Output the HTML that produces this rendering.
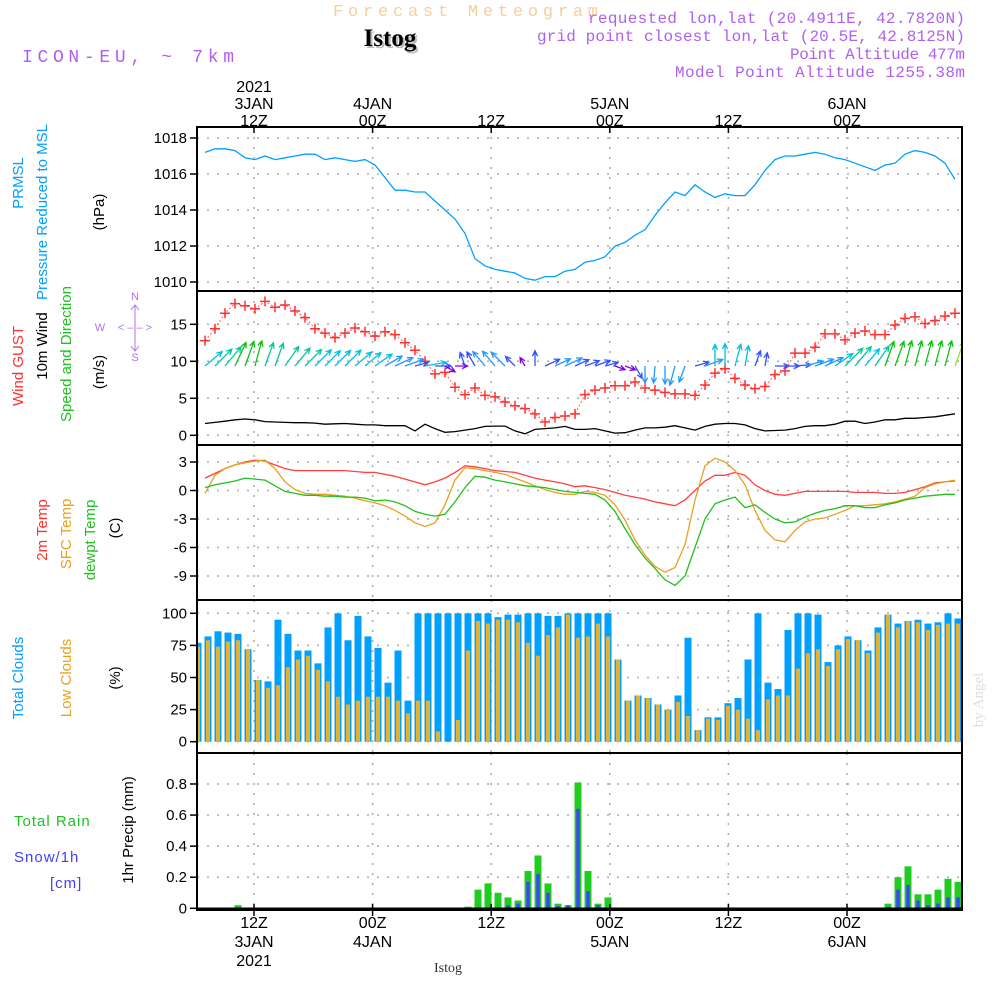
<!DOCTYPE html>
<html><head><meta charset="utf-8"><style>
html,body{margin:0;padding:0;background:#fff;}
svg{display:block;}
text{font-family:"Liberation Sans",sans-serif;}
.mono{font-family:"Liberation Mono",monospace;}
</style></head><body>
<svg id="chart" width="1000" height="1000" viewBox="0 0 1000 1000" xmlns="http://www.w3.org/2000/svg">
<rect width="1000" height="1000" fill="#fff"/>
<text class="mono" x="333" y="16" textLength="265" lengthAdjust="spacing" font-size="17" fill="#f5cf9a">Forecast Meteogram</text>
<text x="392" y="48" text-anchor="middle" font-size="25" font-weight="bold" fill="#bbb" style="font-family:'Liberation Serif',serif">Istog</text>
<text x="390" y="46" text-anchor="middle" font-size="25" font-weight="bold" fill="#000" style="font-family:'Liberation Serif',serif">Istog</text>
<text class="mono" x="22" y="62" textLength="212" lengthAdjust="spacing" font-size="18" fill="#b060f0">ICON-EU, ~ 7km</text>
<g class="mono" fill="#b060f0" font-size="16">
<text class="mono" x="588" y="23" textLength="377" lengthAdjust="spacing">requested lon,lat (20.4911E, 42.7820N)</text>
<text class="mono" x="537" y="41" textLength="428" lengthAdjust="spacing">grid point closest lon,lat (20.5E, 42.8125N)</text>
<text class="mono" x="790" y="59" textLength="175" lengthAdjust="spacing">Point Altitude 477m</text>
<text class="mono" x="675" y="77" textLength="290" lengthAdjust="spacing">Model Point Altitude 1255.38m</text>
</g>
<g id="timelabels" font-size="16" text-anchor="middle" fill="#000"></g>
<g id="grid"></g>
<g id="marks"></g>
<g id="frames"></g>
<g id="yticks" font-size="15" text-anchor="end"></g>
<g font-size="15">
<text transform="translate(23,183) rotate(-90)" text-anchor="middle" fill="#00a0ff">PRMSL</text>
<text transform="translate(47,212) rotate(-90)" text-anchor="middle" fill="#00a0ff">Pressure Reduced to MSL</text>
<text transform="translate(104,212) rotate(-90)" text-anchor="middle" fill="#000">(hPa)</text>
<text transform="translate(23,366) rotate(-90)" text-anchor="middle" fill="#ff3030">Wind GUST</text>
<text transform="translate(47,346) rotate(-90)" text-anchor="middle" fill="#000">10m Wind</text>
<text transform="translate(71,354) rotate(-90)" text-anchor="middle" fill="#20c020">Speed and Direction</text>
<text transform="translate(104,372) rotate(-90)" text-anchor="middle" fill="#000">(m/s)</text>
<g fill="#b070f0" stroke="none" font-size="11" text-anchor="middle">
<text x="135" y="300">N</text>
<text x="135" y="361">S</text>
<text x="100" y="331">W</text>
<text x="135" y="331">&lt; – – &gt;</text>
<path d="M135,306V351M131,310L135,305L139,310M131,346L135,351L139,346" stroke="#b070f0" stroke-width="1" fill="none"/>
</g>
<text transform="translate(47,530) rotate(-90)" text-anchor="middle" fill="#ff3030">2m Temp</text>
<text transform="translate(71,534) rotate(-90)" text-anchor="middle" fill="#e8a020">SFC Temp</text>
<text transform="translate(95,540) rotate(-90)" text-anchor="middle" fill="#20c020">dewpt Temp</text>
<text transform="translate(120,528) rotate(-90)" text-anchor="middle" fill="#000">(C)</text>
<text transform="translate(23,678) rotate(-90)" text-anchor="middle" fill="#00a0ff">Total Clouds</text>
<text transform="translate(71,678) rotate(-90)" text-anchor="middle" fill="#e8a020">Low Clouds</text>
<text transform="translate(120,678) rotate(-90)" text-anchor="middle" fill="#000">(%)</text>
<text transform="translate(133,830) rotate(-90)" text-anchor="middle" fill="#000">1hr Precip (mm)</text>
<text x="14" y="826" fill="#20c020" letter-spacing="1">Total  Rain</text>
<text x="14" y="862" fill="#4040ff" letter-spacing="1">Snow/1h</text>
<text x="50" y="888" fill="#4040ff" letter-spacing="1">[cm]</text>
<text transform="translate(983,700) rotate(-90)" text-anchor="middle" font-size="15" fill="#ddd" style="font-family:'Liberation Serif',serif">by Angel</text>
<text x="448" y="972" text-anchor="middle" font-size="14" fill="#333" style="font-family:'Liberation Serif',serif">Istog</text>
</g>
</svg>
<script>
const pressure=[1017.2,1017.4,1017.4,1017.3,1016.9,1016.8,1017.0,1016.8,1016.9,1017.0,1017.1,1017.1,1016.8,1016.9,1016.8,1016.7,1016.8,1016.5,1015.8,1015.1,1015.1,1015.0,1015.0,1014.5,1014.0,1013.5,1012.7,1011.3,1010.9,1010.7,1010.6,1010.5,1010.2,1010.1,1010.3,1010.3,1010.6,1010.7,1011.1,1011.2,1011.4,1012.0,1012.2,1012.6,1012.9,1013.7,1014.4,1015.0,1014.8,1015.4,1015.0,1014.7,1014.9,1014.8,1014.8,1015.4,1016.2,1016.8,1017.0,1017.0,1017.1,1017.2,1017.1,1016.9,1016.8,1016.6,1016.4,1016.2,1016.5,1016.6,1017.1,1017.3,1017.2,1017.0,1016.6,1015.7];
const gust=[12.8,14.4,16.5,17.8,17.5,17.1,18.1,17.3,17.6,16.8,15.9,14.4,13.8,13.2,13.8,14.5,14.0,13.4,14.0,13.6,12.5,11.5,10.0,8.3,8.5,6.5,5.5,6.4,5.4,5.2,4.5,4.0,3.6,2.9,1.8,2.4,2.6,2.9,5.5,6.1,6.4,6.7,6.7,7.2,6.4,6.1,5.8,5.6,5.6,5.4,6.8,8.4,9.0,7.7,6.8,6.3,6.6,8.2,8.7,11.1,11.1,11.9,13.7,13.7,12.9,13.8,14.1,13.6,13.6,14.9,15.8,16.0,15.1,15.5,16.1,16.5];
const wind10=[1.6,1.75,1.9,2.1,2.2,2.1,1.85,1.8,1.75,1.7,1.7,1.65,1.5,1.55,1.6,1.5,1.4,1.4,1.3,1.3,1.3,0.6,1.5,0.9,0.4,0.5,0.7,0.9,1.2,1.25,1.25,0.6,0.2,0.8,0.9,1.0,1.2,0.8,0.8,0.9,0.6,0.3,0.35,0.7,1.0,1.0,1.1,1.3,1.0,0.7,1.2,1.5,1.6,1.6,1.4,0.9,0.6,0.65,0.7,0.9,1.2,1.3,1.3,1.5,1.9,1.9,1.6,1.8,2.1,2.1,2.3,2.3,2.4,2.5,2.7,2.9];
const windDir=[50,45,40,25,20,15,20,20,35,40,45,45,45,45,45,50,50,55,60,65,70,75,80,90,120,90,340,330,320,320,315,315,330,0,65,65,65,65,70,70,75,110,110,150,180,185,180,195,200,75,70,0,0,15,10,20,10,90,90,85,75,70,65,55,45,40,40,35,20,20,15,15,15,15,15,20];
const temp2m=[1.3,1.8,2.3,2.7,3.0,3.2,3.1,2.7,2.3,2.1,2.1,2.1,2.1,2.1,2.1,2.0,1.9,1.9,1.7,1.5,1.2,0.9,0.6,0.9,1.3,1.9,2.6,2.5,2.3,2.1,2.0,1.9,1.6,1.3,1.1,0.9,0.7,0.4,0.5,0.3,0.1,-0.2,-0.5,-0.7,-0.9,-1.2,-1.4,-1.6,-1.0,0.0,1.0,1.6,1.6,1.9,1.6,0.6,0.0,-0.4,-0.5,-0.3,-0.1,-0.1,-0.1,-0.1,-0.1,-0.2,-0.2,-0.2,-0.3,-0.3,-0.2,0.1,0.4,0.8,0.9,1.0];
const tempSfc=[-0.3,1.6,2.3,2.7,2.9,3.1,3.2,2.3,0.9,0.1,-0.3,-0.4,-0.4,-0.5,-0.6,-0.8,-1.1,-1.3,-1.6,-2.1,-2.7,-3.4,-3.8,-3.4,-1.5,1.1,2.4,2.3,2.1,1.9,1.7,1.3,0.9,0.5,0.1,-0.2,-0.4,-0.4,-0.1,-0.2,-0.5,-1.5,-3.1,-5.2,-6.8,-8.0,-8.6,-8.1,-5.7,-1.0,2.6,3.4,3.0,2.1,0.6,-2.1,-4.2,-5.2,-5.4,-4.2,-3.3,-3.0,-2.9,-2.5,-2.1,-1.6,-1.6,-1.5,-1.4,-1.2,-0.9,-0.6,0.3,0.7,0.9,1.1];
const dewpt=[0.3,0.6,0.8,1.0,1.3,1.2,1.1,0.5,-0.1,-0.3,-0.5,-0.5,-0.6,-0.6,-0.7,-0.7,-0.8,-1.1,-1.0,-1.2,-1.6,-2.2,-2.5,-2.7,-2.5,-1.2,0.3,1.5,1.4,1.1,0.9,0.7,0.5,0.4,0.3,0.1,-0.1,-0.2,-0.3,-0.4,-1.0,-2.2,-4.0,-5.7,-7.1,-8.2,-9.4,-10.0,-9.0,-6.0,-3.0,-1.4,-1.0,-0.7,-1.8,-1.5,-2.3,-3.0,-3.4,-3.3,-2.8,-2.4,-2.1,-1.9,-1.6,-1.6,-1.8,-1.8,-1.5,-1.3,-1.0,-0.8,-0.6,-0.5,-0.4,-0.4];
const totalCloud=[77,82,86,85,84,72,48,47,95,84,71,71,61,89,100,79,98,82,73,46,71,32,100,100,100,100,100,100,100,100,97,99,99,100,100,98,98,100,100,100,100,100,64,32,36,34,29,25,36,81,9,19,19,30,34,64,100,46,41,87,100,100,99,62,75,82,79,71,89,99,92,94,95,92,93,100,96];
const lowCloud=[74,79,74,78,79,72,48,42,44,58,64,67,56,47,35,29,32,35,35,35,32,22,32,32,8,0,17,71,94,92,95,95,93,77,67,83,89,99,81,82,92,82,64,32,36,34,29,25,31,20,9,18,17,28,25,18,9,33,36,36,57,69,72,59,72,80,79,69,85,99,89,94,93,87,91,92,92];
const rain=[0,0,0,0,0.02,0,0,0,0,0,0,0,0,0,0,0,0,0,0,0,0,0,0,0,0,0,0,0.01,0.12,0.16,0.10,0.07,0.05,0.24,0.34,0.16,0.03,0.02,0.81,0.24,0.03,0.07,0,0,0,0,0,0,0,0,0,0,0,0,0,0,0,0,0,0,0,0,0,0,0,0,0,0,0,0.03,0.20,0.27,0.09,0.09,0.12,0.19,0.17];
const snow=[0,0,0,0,0,0,0,0,0,0,0,0,0,0,0,0,0,0,0,0,0,0,0,0,0,0,0,0,0,0,0,0.02,0.03,0.17,0.22,0.10,0.015,0.02,0.64,0.11,0.02,0,0,0,0,0,0,0,0,0,0,0,0,0,0,0,0,0,0,0,0,0,0,0,0,0,0,0,0,0.01,0.12,0.15,0.05,0.02,0.03,0.07,0.07];
const pressTicks=[1010,1012,1014,1016,1018];
const windTicks=[0,5,10,15];
const tempTicks=[-9,-6,-3,0,3];
const cloudTicks=[0,25,50,75,100];
const precipTicks=[0,0.2,0.4,0.6,0.8];
const topTimeLabels=[["2021","3JAN","12Z"],["","4JAN","00Z"],["","","12Z"],["","5JAN","00Z"],["","","12Z"],["","6JAN","00Z"]];
const botTimeLabels=[["12Z","3JAN","2021"],["00Z","4JAN",""],["12Z","",""],["00Z","5JAN",""],["12Z","",""],["00Z","6JAN",""]];

const NS="http://www.w3.org/2000/svg";
const L=197,R=962;
const panels=[[127,291],[291,445],[445,600],[600,753],[753,910]];
const xLine=k=>205+10*k;
const xBar=i=>198+10*i;
const xTime=j=>254+118.6*j;
const yP=v=>282-(v-1010)*18;
const yW=v=>435.3-v*7.4;
const yT=v=>490.5-v*9.5;
const yC=v=>741.7-v*1.284;
const yR=v=>908.3-v*155.4;
function mk(tag,attrs,parent){const e=document.createElementNS(NS,tag);for(const k in attrs)e.setAttribute(k,attrs[k]);parent.appendChild(e);return e;}
const grid=document.getElementById('grid'),marks=document.getElementById('marks'),frames=document.getElementById('frames'),yt=document.getElementById('yticks'),tl=document.getElementById('timelabels');
const defs=mk('defs',{},document.getElementById('chart'));
const cp=mk('clipPath',{id:'plotclip'},defs);mk('rect',{x:L,y:127,width:R-L,height:783},cp);
marks.setAttribute('clip-path','url(#plotclip)');
for(let j=0;j<6;j++){const x=xTime(j);
 for(const p of panels){const g=mk('line',{x1:x,x2:x,y1:p[0],y2:p[1],stroke:'#aaa','stroke-width':1.5,'stroke-dasharray':'2,8'},grid);
 }
 const t1=mk('line',{x1:x,x2:x,y1:127,y2:133,stroke:'#000','stroke-width':1.5},frames);
 const t2=mk('line',{x1:x,x2:x,y1:904,y2:916,stroke:'#000','stroke-width':1.5},frames);
 topTimeLabels[j].forEach((s,r)=>{if(!s)return;const t=mk('text',{x:x,y:92+r*17},tl);t.textContent=s;});
 botTimeLabels[j].forEach((s,r)=>{if(!s)return;const t=mk('text',{x:x,y:928+r*19},tl);t.textContent=s;});
}
function hTicks(ticks,yf,fmt){ticks.forEach(v=>{const y=yf(v);
 const g=mk('line',{x1:L,x2:R,y1:y,y2:y,stroke:'#aaa','stroke-width':1.5,'stroke-dasharray':'2,8'},grid);
 
 const tk=mk('line',{x1:L-7,x2:L,y1:y,y2:y,stroke:'#000','stroke-width':1.5},frames);
 
 const t=mk('text',{x:L-10,y:y+5},yt);t.textContent=fmt(v);
 });}
hTicks(pressTicks,yP,v=>v);
hTicks(windTicks,yW,v=>v);
hTicks(tempTicks,yT,v=>v);
hTicks(cloudTicks,yC,v=>v);
hTicks(precipTicks,yR,v=>v===0?'0':v.toFixed(1));
totalCloud.forEach((v,i)=>{const b=mk('rect',{x:xBar(i)-3.5,y:yC(v),width:7,height:yC(0)-yC(v),fill:'#00a0ff'},marks);
 });
lowCloud.forEach((v,i)=>{const b=mk('rect',{x:xBar(i)-2,y:yC(v),width:4,height:yC(0)-yC(v),fill:'#e8b030'},marks);
 });
rain.forEach((v,i)=>{if(v<=0)return;const b=mk('rect',{x:xBar(i)-3.5,y:yR(v),width:7,height:yR(0)-yR(v),fill:'#20cc20'},marks);
 });
snow.forEach((v,i)=>{if(v<=0)return;const b=mk('rect',{x:xBar(i)-1.7,y:yR(v),width:3.4,height:yR(0)-yR(v),fill:'#4040ff'},marks);
 });
const base=mk('line',{x1:L,x2:R,y1:908.5,y2:908.5,stroke:'#000','stroke-width':2},marks);
function line(arr,yf,col,name,w){const pts=arr.map((v,k)=>xLine(k)+','+yf(v).toFixed(1)).join(' ');
 const p=mk('polyline',{points:pts,fill:'none',stroke:col,'stroke-width':w||1.3},marks);
 return p;}
line(pressure,yP,'#00a0ff','pressure-line');
line(wind10,yW,'#000','wind-10m-line');
line(temp2m,yT,'#ff4040','temp-2m-line');
line(tempSfc,yT,'#e8a020','temp-sfc-line');
line(dewpt,yT,'#20c020','dewpt-line');
line(gust,yW,'#ff6060','gust-line',1).setAttribute('stroke-dasharray','2,2');
gust.forEach((v,k)=>{const x=xLine(k),y=yW(v);
 const m=mk('path',{d:`M${x-5},${y}H${x+5}M${x},${y-5}V${y+5}`,stroke:'#ff3030','stroke-width':1.5},marks);
 });
function wcol(s){if(s>=2.8)return '#a0e020';if(s>=2.05)return '#10c010';if(s>=1.7)return '#00c8a0';if(s>=1.35)return '#00c0e0';if(s>=1.0)return '#2098ff';if(s>=0.6)return '#3050ff';return '#8000e0';}
windDir.forEach((d,k)=>{const s=wind10[k];const len=Math.min(26,8+9*s);const a=d*Math.PI/180;
 const x0=xLine(k),y0=366,x1=x0+len*Math.sin(a),y1=y0-len*Math.cos(a);
 const h1=a+Math.PI-0.45,h2=a+Math.PI+0.45;
 const p=`M${x0},${y0}L${x1},${y1}M${x1+6*Math.sin(h1)},${y1-6*Math.cos(h1)}L${x1},${y1}L${x1+6*Math.sin(h2)},${y1-6*Math.cos(h2)}`;
 const e=mk('path',{d:p,fill:'none',stroke:wcol(s),'stroke-width':1.3},marks);
 });
panels.forEach(p=>{const r=mk('rect',{x:L,y:p[0],width:R-L,height:p[1]-p[0],fill:'none',stroke:'#000','stroke-width':2},frames);
 });
</script>
</body></html>
